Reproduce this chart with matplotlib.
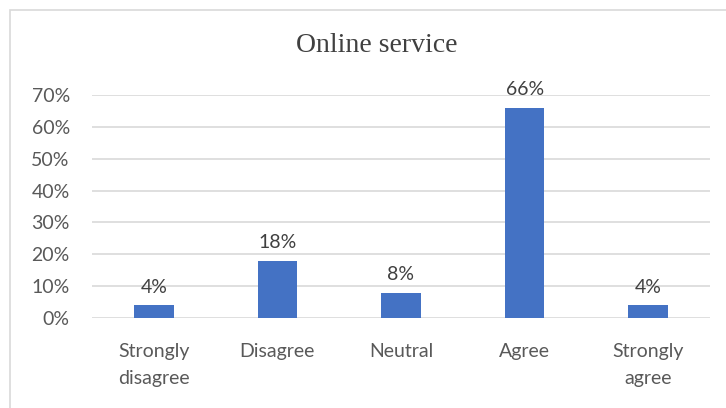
import matplotlib.pyplot as plt
from matplotlib.patches import Rectangle
import numpy as np

categories = ["Strongly\ndisagree", "Disagree", "Neutral", "Agree", "Strongly\nagree"]
values = [4, 18, 8, 66, 4]
y_ticks = [0, 10, 20, 30, 40, 50, 60, 70]
y_tick_labels = [f"{t}%" for t in y_ticks]

BAR = "#4472C4"
GRID = "#d9d9d9"
TEXT = "#595959"

fig = plt.figure(figsize=(7.26, 4.08), dpi=100)
ax = fig.add_axes([92 / 726, 90 / 408, 618 / 726, 223 / 408])

# chart frame
fig.patches.append(Rectangle((10 / 726, -0.05), 1.0, 398 / 408 + 0.05,
                             transform=fig.transFigure, fill=False,
                             edgecolor=GRID, lw=1.2))

x = np.arange(len(categories))
ax.bar(x, values, width=0.32, color=BAR, zorder=3)

for xi, v in zip(x, values):
    ax.annotate(f"{v}%", (xi, v), xytext=(0, 7), textcoords="offset points",
                ha="center", va="bottom", fontsize=14, color="#404040",
                family="Lato")

ax.set_xlim(-0.5, len(categories) - 0.5)
ax.set_ylim(0, 70)
ax.set_yticks(y_ticks)
ax.set_yticklabels(y_tick_labels)
ax.set_xticks(x)
ax.set_xticklabels(categories, linespacing=1.7)
ax.grid(axis="y", color=GRID, lw=1.2, zorder=0)
ax.tick_params(length=0, labelsize=14, labelcolor=TEXT)
ax.tick_params(axis="x", pad=18)
ax.tick_params(axis="y", pad=16)
for lbl in ax.get_xticklabels() + ax.get_yticklabels():
    lbl.set_family("Lato")
for s in ax.spines.values():
    s.set_visible(False)

fig.text(377 / 726, 1 - 45 / 408, "Online service", ha="center", va="center",
         fontsize=20, color="#404040", family="Liberation Serif")

fig.savefig("out.png", dpi=100)
